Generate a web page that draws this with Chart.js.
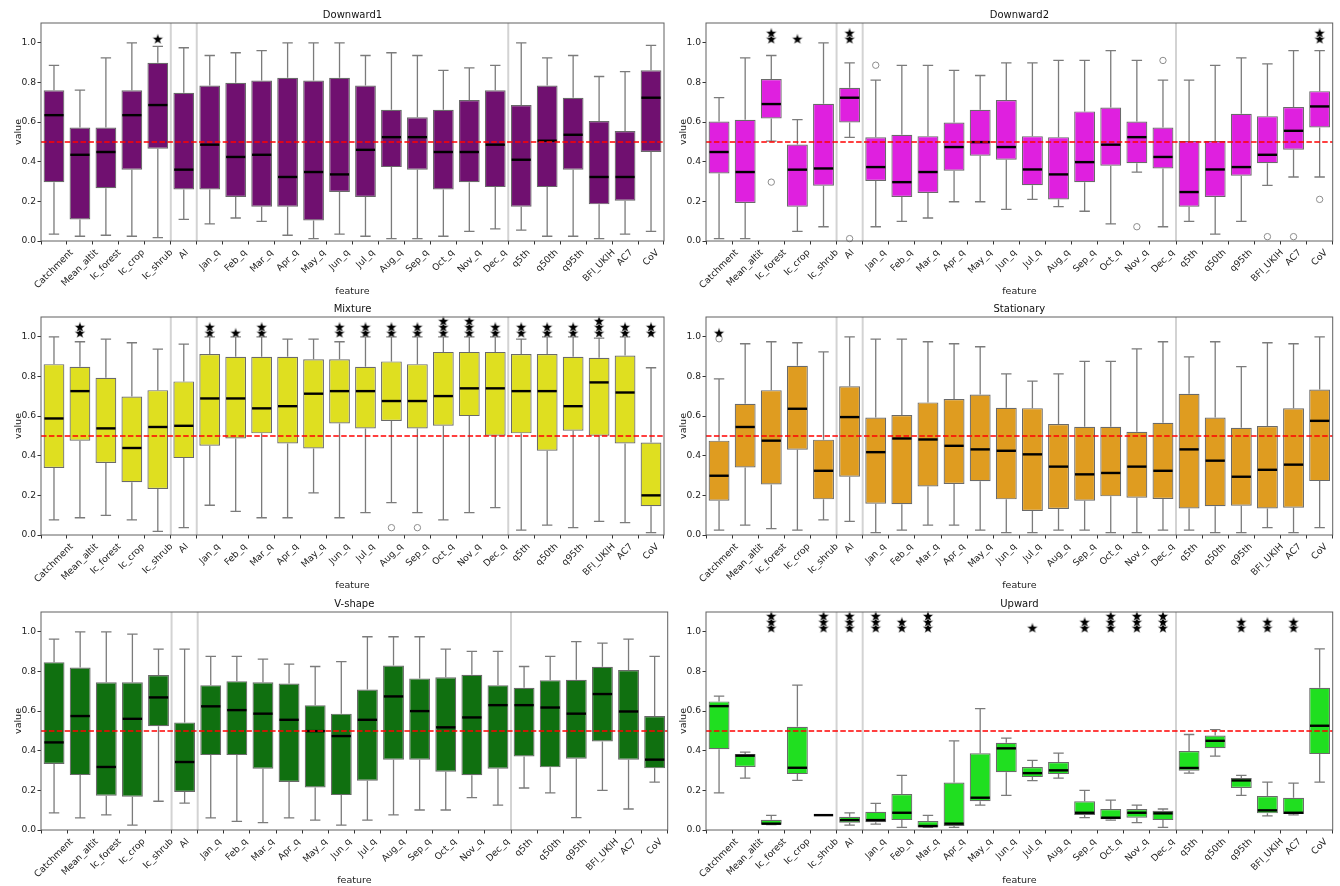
<!DOCTYPE html>
<html>
<head>
<meta charset="utf-8">
<script src="https://cdn.jsdelivr.net/npm/chart.js@4.4.1/dist/chart.umd.min.js"></script>
<style>
  html, body { margin: 0; padding: 0; background: #ffffff; width: 1340px; height: 886px; overflow: hidden; }
  canvas { position: absolute; }
</style>
</head>
<body>
<script>
// ---- categories and axis ticks ----
const features = ['Catchment','Mean_altit','lc_forest','lc_crop','lc_shrub','AI',
  'Jan_q','Feb_q','Mar_q','Apr_q','May_q','Jun_q','Jul_q','Aug_q','Sep_q','Oct_q','Nov_q','Dec_q',
  'q5th','q50th','q95th','BFI_UKIH','AC7','CoV'];
const yTickValues = [0.0, 0.2, 0.4, 0.6, 0.8, 1.0];
const groupEnds = ['lc_shrub', 'AI', 'Dec_q'];   // a separator follows each of these
const refLevel = 0.5;
const starLevels = [1.02, 1.05, 1.08];

// ---- Downward1 ----
const down1Low  = [0.035,0.024,0.029,0.024,0.017,0.109,0.086,0.116,0.099,0.029,0.012,0.035,0.024,0.012,0.012,0.024,0.049,0.061,0.055,0.024,0.024,0.012,0.035,0.049];
const down1Q1   = [0.297,0.109,0.266,0.360,0.466,0.260,0.260,0.222,0.173,0.173,0.104,0.247,0.222,0.373,0.360,0.260,0.297,0.272,0.173,0.272,0.360,0.185,0.203,0.449];
const down1Med  = [0.635,0.435,0.449,0.635,0.686,0.360,0.486,0.424,0.435,0.323,0.348,0.336,0.460,0.524,0.524,0.449,0.449,0.486,0.410,0.506,0.536,0.323,0.323,0.723];
const down1Q3   = [0.761,0.573,0.573,0.761,0.899,0.748,0.785,0.798,0.810,0.824,0.810,0.824,0.785,0.662,0.624,0.662,0.711,0.761,0.686,0.785,0.723,0.605,0.555,0.861];
const down1High = [0.886,0.761,0.924,1.000,0.982,0.975,0.936,0.950,0.961,1.000,1.000,1.000,0.936,0.950,0.936,0.861,0.874,0.886,1.000,0.924,0.936,0.830,0.855,0.987];
const down1Stars = [0,0,0,0,1,0,0,0,0,0,0,0,0,0,0,0,0,0,0,0,0,0,0,0];
const down1Outliers = [];

// ---- Downward2 ----
const down2Low  = [0.012,0.012,0.504,0.049,0.072,0.523,0.072,0.099,0.116,0.198,0.198,0.160,0.210,0.173,0.150,0.086,0.348,0.072,0.099,0.035,0.099,0.281,0.323,0.323];
const down2Q1   = [0.341,0.192,0.618,0.173,0.279,0.598,0.303,0.222,0.242,0.355,0.430,0.410,0.281,0.210,0.297,0.380,0.392,0.366,0.173,0.222,0.329,0.392,0.461,0.573];
const down2Med  = [0.449,0.348,0.691,0.360,0.366,0.723,0.373,0.297,0.348,0.474,0.499,0.474,0.361,0.336,0.398,0.486,0.524,0.424,0.247,0.361,0.373,0.435,0.556,0.679];
const down2Q3   = [0.603,0.612,0.817,0.487,0.692,0.773,0.523,0.536,0.529,0.598,0.662,0.711,0.529,0.524,0.654,0.674,0.603,0.573,0.504,0.504,0.642,0.630,0.676,0.756];
const down2High = [0.723,0.924,0.936,0.612,1.000,0.899,0.812,0.886,0.886,0.861,0.835,0.899,0.899,0.911,0.911,0.961,0.911,0.812,0.812,0.886,0.924,0.894,0.961,0.961];
const down2Stars = [0,0,2,1,0,2,0,0,0,0,0,0,0,0,0,0,0,0,0,0,0,0,0,2];
const down2Outliers = [['lc_forest',0.297],['AI',0.012],['Jan_q',0.887],['Nov_q',0.072],['Dec_q',0.911],['BFI_UKIH',0.022],['AC7',0.022],['CoV',0.210]];

// ---- Mixture ----
const mixLow  = [0.076,0.087,0.099,0.076,0.018,0.037,0.150,0.119,0.087,0.087,0.213,0.087,0.113,0.163,0.113,0.076,0.113,0.138,0.025,0.050,0.037,0.069,0.062,0.012];
const mixQ1   = [0.338,0.476,0.363,0.266,0.232,0.388,0.450,0.487,0.513,0.462,0.437,0.563,0.538,0.575,0.538,0.551,0.600,0.501,0.513,0.425,0.526,0.501,0.462,0.145];
const mixMed  = [0.588,0.726,0.538,0.439,0.545,0.551,0.689,0.689,0.639,0.650,0.713,0.726,0.726,0.676,0.676,0.701,0.740,0.740,0.726,0.726,0.650,0.770,0.719,0.200];
const mixQ3   = [0.862,0.849,0.793,0.699,0.731,0.775,0.913,0.899,0.899,0.899,0.887,0.887,0.849,0.876,0.862,0.924,0.924,0.924,0.913,0.913,0.899,0.894,0.906,0.467];
const mixHigh = [1.000,0.975,0.988,0.970,0.938,0.963,1.000,1.000,1.000,0.988,0.988,0.975,1.000,1.000,1.000,1.000,1.000,1.000,0.988,1.000,1.000,0.993,1.000,0.844];
const mixStars = [0,2,0,0,0,0,2,1,2,0,0,2,2,2,2,3,3,2,2,2,2,3,2,2];
const mixOutliers = [['Aug_q',0.037],['Sep_q',0.037]];

// ---- Stationary ----
const statLow  = [0.025,0.050,0.032,0.025,0.076,0.069,0.012,0.025,0.050,0.050,0.025,0.012,0.012,0.025,0.025,0.012,0.012,0.025,0.025,0.012,0.012,0.037,0.012,0.037];
const statQ1   = [0.173,0.341,0.255,0.430,0.180,0.294,0.158,0.155,0.245,0.257,0.271,0.180,0.121,0.131,0.173,0.195,0.188,0.182,0.134,0.145,0.148,0.134,0.138,0.272];
const statMed  = [0.299,0.545,0.476,0.637,0.324,0.595,0.418,0.487,0.482,0.450,0.432,0.425,0.407,0.345,0.306,0.313,0.345,0.324,0.432,0.375,0.294,0.329,0.355,0.576];
const statQ3   = [0.476,0.662,0.731,0.854,0.481,0.750,0.593,0.605,0.669,0.686,0.709,0.642,0.640,0.560,0.546,0.546,0.521,0.566,0.713,0.593,0.541,0.550,0.639,0.734];
const statHigh = [0.788,0.965,0.975,0.970,0.924,1.000,0.988,0.988,0.975,0.965,0.950,0.813,0.776,0.813,0.876,0.876,0.939,0.975,0.899,0.975,0.850,0.970,0.965,1.000];
const statStars = [1,0,0,0,0,0,0,0,0,0,0,0,0,0,0,0,0,0,0,0,0,0,0,0];
const statOutliers = [['Catchment',0.990]];

// ---- V-shape ----
const vLow  = [0.086,0.061,0.076,0.025,0.145,0.136,0.061,0.044,0.037,0.061,0.050,0.025,0.050,0.076,0.101,0.101,0.163,0.126,0.212,0.187,0.062,0.200,0.106,0.242];
const vQ1   = [0.333,0.277,0.173,0.168,0.524,0.192,0.378,0.378,0.309,0.242,0.215,0.176,0.249,0.355,0.355,0.294,0.276,0.309,0.371,0.316,0.360,0.447,0.355,0.311];
const vMed  = [0.442,0.575,0.318,0.561,0.669,0.343,0.624,0.605,0.587,0.556,0.499,0.474,0.556,0.674,0.600,0.518,0.568,0.630,0.630,0.618,0.587,0.686,0.598,0.355];
const vQ3   = [0.847,0.820,0.745,0.745,0.782,0.543,0.731,0.751,0.745,0.739,0.630,0.587,0.709,0.830,0.765,0.771,0.783,0.731,0.718,0.756,0.758,0.824,0.807,0.575];
const vHigh = [0.963,1.000,1.000,0.988,0.913,0.913,0.876,0.876,0.862,0.837,0.825,0.850,0.975,0.975,0.975,0.913,0.901,0.901,0.825,0.876,0.951,0.943,0.963,0.876];
const vStars = [0,0,0,0,0,0,0,0,0,0,0,0,0,0,0,0,0,0,0,0,0,0,0,0];
const vOutliers = [];

// ---- Upward ----
const upLow  = [0.187,0.262,0.027,0.250,0.075,0.025,0.030,0.013,0.013,0.013,0.126,0.175,0.249,0.262,0.062,0.050,0.037,0.013,0.287,0.373,0.175,0.071,0.076,0.242];
const upQ1   = [0.408,0.318,0.027,0.282,0.075,0.037,0.039,0.050,0.013,0.020,0.145,0.292,0.267,0.282,0.076,0.054,0.062,0.050,0.299,0.413,0.212,0.084,0.081,0.383];
const upMed  = [0.625,0.375,0.032,0.314,0.075,0.050,0.050,0.087,0.020,0.032,0.163,0.412,0.287,0.301,0.087,0.062,0.087,0.084,0.313,0.450,0.250,0.099,0.087,0.526];
const upQ3   = [0.649,0.383,0.052,0.521,0.075,0.067,0.092,0.182,0.045,0.240,0.387,0.440,0.318,0.343,0.145,0.106,0.106,0.097,0.398,0.477,0.262,0.171,0.163,0.718];
const upHigh = [0.676,0.393,0.074,0.731,0.075,0.086,0.134,0.276,0.074,0.450,0.612,0.464,0.351,0.388,0.200,0.151,0.126,0.106,0.482,0.506,0.276,0.242,0.237,0.914];
const upStars = [0,0,3,0,3,3,3,2,3,0,0,0,1,0,2,3,3,3,0,0,2,2,2,0];
const upOutliers = [];

// ---- panels in reading order ----
const panels = [
  { title: 'Downward1', fill: '#701070', low: down1Low, q1: down1Q1, med: down1Med, q3: down1Q3, high: down1High, stars: down1Stars, outliers: down1Outliers },
  { title: 'Downward2', fill: '#df20df', low: down2Low, q1: down2Q1, med: down2Med, q3: down2Q3, high: down2High, stars: down2Stars, outliers: down2Outliers },
  { title: 'Mixture',   fill: '#dfdf20', low: mixLow,   q1: mixQ1,   med: mixMed,   q3: mixQ3,   high: mixHigh,   stars: mixStars,   outliers: mixOutliers },
  { title: 'Stationary',fill: '#df9c20', low: statLow,  q1: statQ1,  med: statMed,  q3: statQ3,  high: statHigh,  stars: statStars,  outliers: statOutliers },
  { title: 'V-shape',   fill: '#107010', low: vLow,     q1: vQ1,     med: vMed,     q3: vQ3,     high: vHigh,     stars: vStars,     outliers: vOutliers },
  { title: 'Upward',    fill: '#20df20', low: upLow,    q1: upQ1,    med: upMed,    q3: upQ3,    high: upHigh,    stars: upStars,    outliers: upOutliers }
];

// ---- page layout ----
const FONT = '"DejaVu Sans", "Liberation Sans", sans-serif';
const TICK_PX = 9.2;
const CELL_W = [670, 675];
const CELL_LEFT = [0, 665];
const CELL_TOP = [5.3, 299.4, 594.3];
const CELL_H = 292;
const PAD_RIGHT = [2.3, 7.3];

// filled five-point star used as the marker image
function makeStarImage() {
  const c = document.createElement('canvas');
  c.width = 14; c.height = 14;
  const g = c.getContext('2d');
  g.beginPath();
  for (let k = 0; k < 10; k++) {
    const r = (k % 2) ? 2.4 : 5.7;
    const ang = -Math.PI / 2 + k * Math.PI / 5;
    g.lineTo(7 + r * Math.cos(ang), 7.5 + r * Math.sin(ang));
  }
  g.closePath();
  g.fillStyle = '#000000';
  g.fill();
  g.lineWidth = 0.5;
  g.strokeStyle = 'rgba(255,255,255,0.9)';
  g.stroke();
  return c;
}
const starImage = makeStarImage();

// whiskers, medians, separators, reference line, frame, rotated labels and title
function boxPartsPlugin(panel) {
  return {
    id: 'boxParts',
    beforeDatasetsDraw(chart) {
      const { ctx, chartArea: a, scales: { x, y } } = chart;
      const bars = chart.getDatasetMeta(0).data;
      ctx.save();
      ctx.strokeStyle = '#d3d3d3';
      ctx.lineWidth = 2;
      groupEnds.forEach(name => {
        const i = features.indexOf(name);
        const xs = (x.getPixelForValue(i) + x.getPixelForValue(i + 1)) / 2;
        ctx.beginPath();
        ctx.moveTo(xs, a.top);
        ctx.lineTo(xs, a.bottom);
        ctx.stroke();
      });
      ctx.strokeStyle = '#7b7b7b';
      ctx.lineWidth = 1.3;
      features.forEach((f, i) => {
        const xc = x.getPixelForValue(i);
        const cap = bars[i].width / 4;
        const yLow = y.getPixelForValue(panel.low[i]);
        const yQ1 = y.getPixelForValue(panel.q1[i]);
        const yQ3 = y.getPixelForValue(panel.q3[i]);
        const yHigh = y.getPixelForValue(panel.high[i]);
        ctx.beginPath();
        ctx.moveTo(xc, yQ1); ctx.lineTo(xc, yLow);
        ctx.moveTo(xc, yQ3); ctx.lineTo(xc, yHigh);
        ctx.moveTo(xc - cap, yLow); ctx.lineTo(xc + cap, yLow);
        ctx.moveTo(xc - cap, yHigh); ctx.lineTo(xc + cap, yHigh);
        ctx.stroke();
      });
      ctx.restore();
    },
    afterDatasetsDraw(chart) {
      const { ctx, chartArea: a, scales: { x, y } } = chart;
      const bars = chart.getDatasetMeta(0).data;
      ctx.save();
      ctx.strokeStyle = '#000000';
      ctx.lineWidth = 2.4;
      features.forEach((f, i) => {
        const xc = x.getPixelForValue(i);
        const hw = bars[i].width / 2 - 0.8;
        const ym = y.getPixelForValue(panel.med[i]);
        ctx.beginPath();
        ctx.moveTo(xc - hw, ym); ctx.lineTo(xc + hw, ym);
        ctx.stroke();
      });
      const yr = y.getPixelForValue(refLevel);
      ctx.strokeStyle = '#ff0000';
      ctx.lineWidth = 1.5;
      ctx.setLineDash([5.5, 2.4]);
      ctx.beginPath();
      ctx.moveTo(a.left, yr); ctx.lineTo(a.right, yr);
      ctx.stroke();
      ctx.setLineDash([]);
      ctx.strokeStyle = '#606060';
      ctx.lineWidth = 1;
      ctx.strokeRect(a.left, a.top, a.right - a.left, a.bottom - a.top);
      ctx.fillStyle = '#111111';
      ctx.font = '10px ' + FONT;
      ctx.textAlign = 'center';
      ctx.textBaseline = 'middle';
      ctx.fillText(panel.title, (a.left + a.right) / 2, a.top - 7.5);
      ctx.restore();
    },
    afterDraw(chart) {
      // category labels rotated 45 degrees, each centred under its tick
      const { ctx, chartArea: a, scales: { x } } = chart;
      ctx.save();
      ctx.font = TICK_PX + 'px ' + FONT;
      ctx.fillStyle = '#222222';
      ctx.textAlign = 'right';
      ctx.textBaseline = 'middle';
      const k = Math.SQRT1_2 / 2;
      x.ticks.forEach((t, i) => {
        const label = x.getLabelForValue(t.value);
        const w = ctx.measureText(label).width;
        const ax = x.getPixelForValue(t.value) + w * k;
        const ay = a.bottom + 7 + TICK_PX * k;
        ctx.save();
        ctx.translate(ax, ay);
        ctx.rotate(-Math.PI / 4);
        ctx.fillText(label, 0, 0);
        ctx.restore();
      });
      ctx.restore();
    }
  };
}

function buildChart(panel, idx) {
  const col = idx % 2, row = Math.floor(idx / 2);
  const canvas = document.createElement('canvas');
  canvas.width = CELL_W[col];
  canvas.height = CELL_H;
  canvas.style.left = CELL_LEFT[col] + 'px';
  canvas.style.top = CELL_TOP[row] + 'px';
  document.body.appendChild(canvas);

  const starPoints = [];
  panel.stars.forEach((n, i) => {
    for (let k = 0; k < n; k++) starPoints.push({ x: features[i], y: starLevels[k] });
  });
  const outlierPoints = panel.outliers.map(([f, v]) => ({ x: f, y: v }));

  const tickFont = { family: FONT, size: TICK_PX };
  const labelFont = { family: FONT, size: 9.5, lineHeight: 1.2 };

  new Chart(canvas, {
    type: 'bar',
    data: {
      labels: features,
      datasets: [
        {
          data: panel.q1.map((v, i) => [v, panel.q3[i]]),
          backgroundColor: panel.fill,
          borderColor: '#6a6a6a',
          borderWidth: 1.2,
          borderSkipped: false,
          barPercentage: 0.8,
          categoryPercentage: 1.0,
          order: 2
        },
        {
          type: 'scatter',
          data: outlierPoints,
          pointStyle: 'circle',
          pointRadius: 3.2,
          backgroundColor: 'rgba(0,0,0,0)',
          borderColor: '#8c8c8c',
          borderWidth: 1,
          clip: false,
          order: 1
        },
        {
          type: 'scatter',
          data: starPoints,
          pointStyle: starImage,
          pointRadius: 5,
          clip: false,
          order: 0
        }
      ]
    },
    options: {
      responsive: false,
      animation: false,
      devicePixelRatio: 1,
      events: [],
      layout: { padding: { left: 12.5, right: PAD_RIGHT[col], top: 18, bottom: 0 } },
      plugins: { legend: { display: false }, tooltip: { enabled: false }, title: { display: false } },
      scales: {
        x: {
          type: 'category',
          offset: true,
          grid: { display: true, drawOnChartArea: false, drawTicks: true, tickLength: 3.5, tickColor: '#333333' },
          border: { display: false },
          ticks: { display: false, autoSkip: false, font: tickFont },
          title: { display: true, text: 'feature', font: labelFont, color: '#222222', padding: 0 },
          afterFit(s) { s.height = 56; }
        },
        y: {
          type: 'linear',
          min: 0,
          max: 1.1,
          afterBuildTicks(s) { s.ticks = yTickValues.map(v => ({ value: v })); },
          grid: { display: true, drawOnChartArea: false, drawTicks: true, tickLength: 3.5, tickColor: '#333333' },
          border: { display: false },
          ticks: { font: tickFont, color: '#222222', padding: 1.5, callback: v => Number(v).toFixed(1) },
          title: { display: true, text: 'value', font: labelFont, color: '#222222', padding: 0 },
          afterFit(s) { s.width = 28.5; }
        }
      }
    },
    plugins: [boxPartsPlugin(panel)]
  });
}

panels.forEach(buildChart);
</script>
</body>
</html>
